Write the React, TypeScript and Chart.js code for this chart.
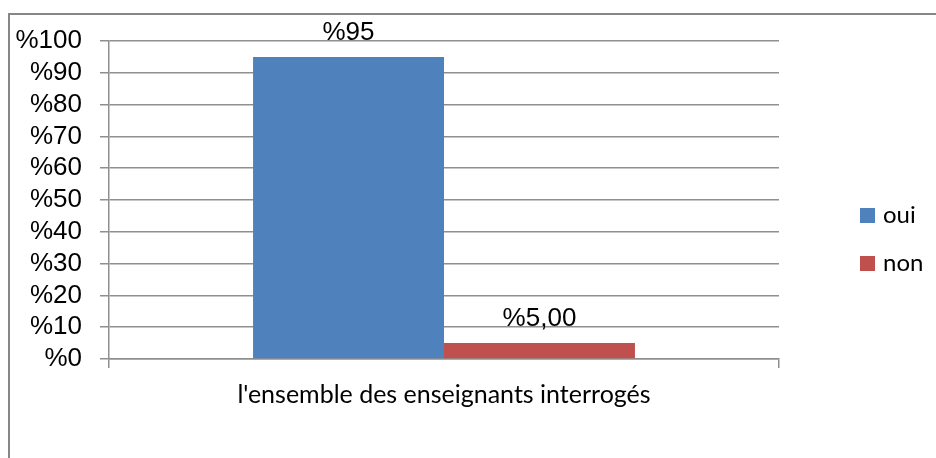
import React, { useEffect, useRef } from "react";
import { Chart, registerables } from "chart.js";

Chart.register(...registerables);

const categories = ["l'ensemble des enseignants interrogés"];
const seriesNames = ["oui", "non"];
const ouiValues = [95];
const nonValues = [5];
const valueLabels = ["%95", "%5,00"];
const yMin = 0;
const yMax = 100;
const yStep = 10;
const tickPrefix = "%";
const seriesColors = ["#4F81BD", "#C0504D"];

const W = 936;
const H = 458;

export default function App() {
  const ref = useRef<HTMLCanvasElement | null>(null);

  useEffect(() => {
    if (!ref.current) return;

    const borderPlugin = {
      id: "frame",
      beforeDraw(chart: any) {
        const ctx = chart.ctx;
        ctx.save();
        ctx.fillStyle = "#ffffff";
        ctx.fillRect(0, 0, W, H);
        ctx.strokeStyle = "#878787";
        ctx.lineWidth = 2;
        ctx.beginPath();
        ctx.moveTo(9, H + 5);
        ctx.lineTo(9, 14);
        ctx.lineTo(W + 5, 14);
        ctx.stroke();
        ctx.restore();
      },
    };

    const labelsPlugin = {
      id: "valueLabels",
      afterDatasetsDraw(chart: any) {
        const ctx = chart.ctx;
        ctx.save();
        ctx.font = '26px "Liberation Sans", Arial, sans-serif';
        ctx.fillStyle = "#000000";
        ctx.textAlign = "center";
        ctx.textBaseline = "middle";
        chart.data.datasets.forEach((_d: any, i: number) => {
          const meta = chart.getDatasetMeta(i);
          const bar = meta.data[0];
          if (!bar) return;
          ctx.fillText(valueLabels[i], bar.x, bar.y - 24);
        });
        ctx.restore();
      },
    };

    const legendPlugin = {
      id: "sideLegend",
      afterDraw(chart: any) {
        const ctx = chart.ctx;
        ctx.save();
        ctx.font = '24px Lato, "Open Sans", sans-serif';
        ctx.textBaseline = "middle";
        ctx.textAlign = "left";
        chart.data.datasets.forEach((d: any, i: number) => {
          const cy = 215.5 + i * 48;
          ctx.fillStyle = d.backgroundColor;
          ctx.fillRect(860, cy - 7.5, 15, 15);
          ctx.fillStyle = "#000000";
          ctx.fillText(d.label, 883, cy);
        });
        ctx.restore();
      },
    };

    const chart = new Chart(ref.current, {
      type: "bar",
      data: {
        labels: categories,
        datasets: [
          {
            label: seriesNames[0],
            data: ouiValues,
            backgroundColor: seriesColors[0],
            categoryPercentage: 0.57,
            barPercentage: 1.0,
          },
          {
            label: seriesNames[1],
            data: nonValues,
            backgroundColor: seriesColors[1],
            categoryPercentage: 0.57,
            barPercentage: 1.0,
          },
        ],
      },
      options: {
        responsive: false,
        maintainAspectRatio: false,
        animation: false,
        layout: { padding: { top: 41, right: 157, left: 0, bottom: 0 } },
        plugins: {
          legend: { display: false },
          tooltip: { enabled: false },
        },
        scales: {
          x: {
            afterFit(scale: any) {
              scale.height = 99;
            },
            grid: {
              offset: true,
              drawOnChartArea: false,
              drawTicks: true,
              tickLength: 9,
              color: "#8f8f8f",
              lineWidth: 1.5,
            },
            border: { display: true, color: "#8f8f8f", width: 1.5 },
            ticks: {
              color: "#000000",
              padding: 12,
              font: { family: 'Lato, "Open Sans", sans-serif', size: 25 },
            },
          },
          y: {
            min: yMin,
            max: yMax,
            afterFit(scale: any) {
              scale.width = 109;
            },
            grid: {
              color: "#8f8f8f",
              lineWidth: 1.5,
              drawTicks: true,
              tickLength: 9,
            },
            border: { display: true, color: "#8f8f8f", width: 1.5 },
            ticks: {
              stepSize: yStep,
              autoSkip: false,
              padding: 18,
              color: "#000000",
              font: { family: '"Liberation Sans", Arial, sans-serif', size: 26 },
              callback: (v: any) => tickPrefix + v,
            },
          },
        },
      },
      plugins: [borderPlugin, labelsPlugin, legendPlugin],
    });

    return () => chart.destroy();
  }, []);

  return (
    <div style={{ width: W, height: H, overflow: "hidden" }}>
      <style>{`body{margin:0;overflow:hidden}`}</style>
      <canvas ref={ref} width={W} height={H} style={{ display: "block" }} />
    </div>
  );
}
